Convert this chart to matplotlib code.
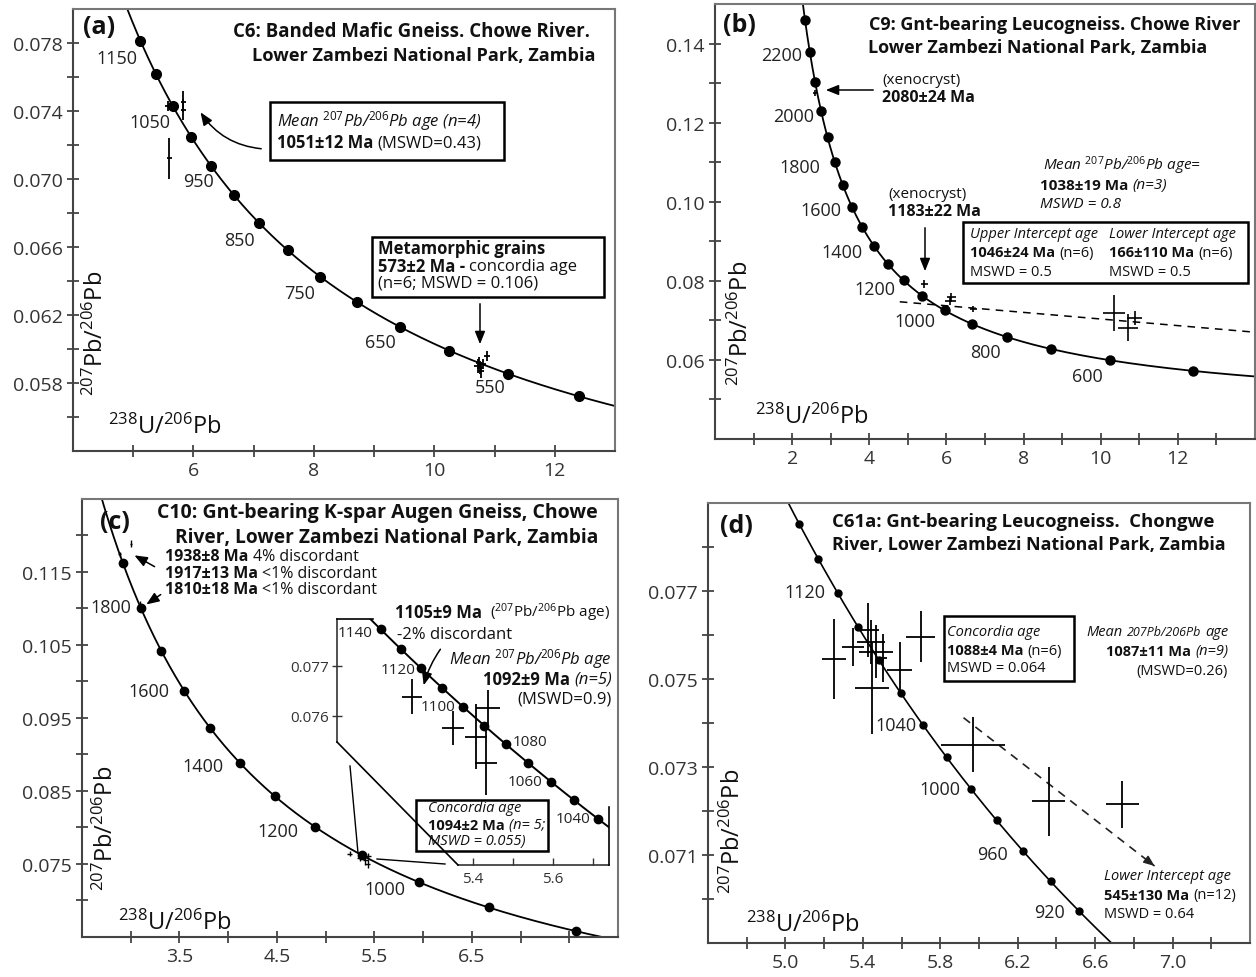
import numpy as np
import matplotlib
matplotlib.use('Agg')
import matplotlib.pyplot as plt
from matplotlib.lines import Line2D
from matplotlib.patches import Rectangle, FancyArrowPatch
from matplotlib.ticker import FixedLocator, FormatStrFormatter, NullFormatter

plt.rcParams['font.family'] = ['Open Sans', 'DejaVu Sans']
plt.rcParams['mathtext.fontset'] = 'custom'
plt.rcParams['mathtext.rm'] = 'Open Sans'
plt.rcParams['mathtext.it'] = 'Open Sans:italic'
plt.rcParams['mathtext.bf'] = 'Open Sans:bold'

# ---------------- data ----------------
# decay constants (1/Ma) and 238U/235U
L238 = 1.55125e-4
L235 = 9.8485e-4
U85 = 137.88

# panel (a)
a_dot_ages = [500, 550, 600, 650, 700, 750, 800, 850, 900, 950, 1000, 1050, 1100, 1150]
a_label_ages = [1150, 1050, 950, 850, 750, 650, 550]
a_old_x = [5.58, 5.83, 5.83, 5.60]
a_old_y = [0.07431, 0.07455, 0.07408, 0.07121]
a_old_xerr = [0.06, 0.04, 0.04, 0.04]
a_old_yerr = [0.0003, 0.0006, 0.0006, 0.0012]
a_met_x = [10.72, 10.76, 10.80, 10.78, 10.74, 10.87]
a_met_y = [0.0590, 0.0589, 0.0591, 0.0587, 0.0592, 0.0596]
a_met_xerr = [0.06, 0.05, 0.06, 0.05, 0.05, 0.05]
a_met_yerr = [0.0004, 0.0004, 0.0003, 0.0004, 0.0003, 0.0003]

# panel (b)
b_dot_ages = [500, 600, 700, 800, 900, 1000, 1100, 1200, 1300, 1400, 1500, 1600,
              1700, 1800, 1900, 2000, 2100, 2200, 2300]
b_label_ages = [2200, 2000, 1800, 1600, 1400, 1200, 1000, 800, 600]
b_x = [2.60, 5.43, 6.13, 6.10, 6.70, 10.34, 10.70, 10.88]
b_y = [0.1275, 0.0793, 0.0758, 0.0749, 0.0729, 0.0719, 0.0681, 0.0706]
b_xerr = [0.05, 0.10, 0.12, 0.15, 0.10, 0.28, 0.26, 0.19]
b_yerr = [0.0008, 0.0010, 0.0012, 0.0009, 0.0007, 0.0045, 0.0034, 0.0017]
b_disc_x = [4.79, 14.0]
b_disc_y = [0.0747, 0.0670]

# panel (c)
c_dot_ages = [800, 900, 1000, 1100, 1200, 1300, 1400, 1500, 1600, 1700, 1800, 1900]
c_label_ages = [1800, 1600, 1400, 1200, 1000]
c_old_x = [3.00, 2.885, 3.10]
c_old_y = [0.1189, 0.1174, 0.1106]
c_old_xerr = [0.01, 0.012, 0.012]
c_old_yerr = [0.0005, 0.0004, 0.0004]
c_x = [5.2475, 5.350, 5.4375, 5.4075, 5.4325]
c_y = [0.07638, 0.07576, 0.07616, 0.07558, 0.07506]
c_xerr = [0.026, 0.028, 0.031, 0.027, 0.027]
c_yerr = [0.00035, 0.00034, 0.00036, 0.00065, 0.00065]
c_inset_dot_ages = [1040, 1050, 1060, 1070, 1080, 1090, 1100, 1110, 1120, 1130, 1140]
c_inset_label_ages = [1140, 1120, 1100, 1080, 1060, 1040]

# panel (d)
d_dot_ages = [920, 940, 960, 980, 1000, 1020, 1040, 1060, 1080, 1100, 1120, 1140, 1160]
d_label_ages = [1120, 1040, 1000, 960, 920]
d_x = [5.249, 5.347, 5.425, 5.440, 5.466, 5.503, 5.446, 5.590, 5.700, 5.970, 6.360, 6.740]
d_y = [0.07546, 0.07573, 0.07612, 0.07584, 0.07562, 0.07548, 0.07480, 0.07521,
       0.07596, 0.07351, 0.07222, 0.07215]
d_xerr = [0.062, 0.057, 0.057, 0.072, 0.088, 0.020, 0.088, 0.065, 0.075, 0.165, 0.084, 0.084]
d_yerr = [0.00091, 0.00043, 0.00061, 0.00051, 0.00060, 0.00054, 0.00104, 0.00062,
          0.00058, 0.00062, 0.00078, 0.00053]
d_disc_x = [5.92, 6.907]
d_disc_y = [0.07412, 0.07075]


def tw(t):
    t = np.asarray(t, float)
    e8 = np.exp(L238 * t) - 1
    e5 = np.exp(L235 * t) - 1
    return 1 / e8, e5 / e8 / U85


# ---------------- figure helpers ----------------
W, H = 1256, 978
fig = plt.figure(figsize=(W / 100, H / 100), dpi=100)
SP = '#444444'
TXT = '#111111'
REND = fig.canvas.get_renderer()
PB = r'$^{207}$Pb/$^{206}$Pb'


def add_ax(l, t, r, b):
    return fig.add_axes([l / W, 1 - b / H, (r - l) / W, (b - t) / H])


def T(px, py, s, size=12, ha='left', va='center', **kw):
    return fig.text(px / W, 1 - py / H, s, fontsize=size, ha=ha, va=va, color=TXT, **kw)


def rich(px, py, parts, size=12, ha='left'):
    """parts: list of (text, style[, size]); style contains 'b' and/or 'i'."""
    objs = []
    for p in parts:
        s, st = p[0], p[1]
        sz = p[2] if len(p) > 2 else size
        kw = dict(fontsize=sz, va='center', ha='left', color=TXT)
        if 'b' in st:
            kw['fontweight'] = 'bold'
        if 'i' in st:
            kw['fontstyle'] = 'italic'
        t = fig.text(0, 1 - py / H, s, **kw)
        objs.append((t, t.get_window_extent(REND).width))
    gap = size * 0.26 * 100 / 72
    total = sum(w for _, w in objs) + gap * (len(objs) - 1)
    x = px - total if ha == 'right' else px
    for t, w in objs:
        t.set_x(x / W)
        x += w + gap


def L(pts, lw=1.2, **kw):
    fig.add_artist(Line2D([p[0] / W for p in pts], [1 - p[1] / H for p in pts],
                          transform=fig.transFigure, color='k', lw=lw, **kw))


def box(l, t, r, b, lw=1.8):
    fig.add_artist(Rectangle((l / W, 1 - b / H), (r - l) / W, (b - t) / H,
                             transform=fig.transFigure, fill=False, ec='k', lw=lw))


def arrow(p0, p1, rad=0.0):
    fig.add_artist(FancyArrowPatch((p0[0] / W, 1 - p0[1] / H), (p1[0] / W, 1 - p1[1] / H),
                                   transform=fig.transFigure,
                                   arrowstyle='-|>,head_length=0.55,head_width=0.22',
                                   mutation_scale=14, lw=1.1, color='k',
                                   connectionstyle='arc3,rad=%g' % rad))


def style(ax, xlim, ylim, xmaj, xmin, ymaj, ymin, xfmt, yfmt):
    ax.set_xlim(xlim)
    ax.set_ylim(ylim)
    ax.xaxis.set_major_locator(FixedLocator(xmaj))
    ax.xaxis.set_minor_locator(FixedLocator(xmin))
    ax.yaxis.set_major_locator(FixedLocator(ymaj))
    ax.yaxis.set_minor_locator(FixedLocator(ymin))
    ax.xaxis.set_major_formatter(FormatStrFormatter(xfmt))
    ax.yaxis.set_major_formatter(FormatStrFormatter(yfmt))
    ax.xaxis.set_minor_formatter(NullFormatter())
    ax.yaxis.set_minor_formatter(NullFormatter())
    ax.tick_params(which='both', direction='inout', length=9, width=1.3, color=SP,
                   labelsize=14, labelcolor='#333333', pad=3)
    for s in ax.spines.values():
        s.set_color(SP)
        s.set_linewidth(1.5)
    for s in ['top', 'right']:
        ax.spines[s].set_color('#777777')
    ax.set_facecolor('none')


def concordia(ax, t0, t1, dot_ages, ms=6, lw=1.3):
    t = np.linspace(t0, t1, 800)
    x, y = tw(t)
    ax.plot(x, y, color='k', lw=lw, zorder=2)
    dx, dy = tw(dot_ages)
    ax.plot(dx, dy, 'o', color='k', ms=ms, zorder=3)


def age_labels(ax, ages, offsets, size=13):
    xs, ys = tw(ages)
    for x, y, a, (ox, oy) in zip(xs, ys, ages, offsets):
        ax.annotate(str(a), (x, y), xytext=(ox, -oy), textcoords='offset pixels',
                    ha='center', va='center', fontsize=size, color='#222222')


def crosses(ax, x, y, xe, ye, lw=1.3):
    ax.errorbar(x, y, xerr=xe, yerr=ye, fmt='none', ecolor='k', elinewidth=lw,
                capsize=0, zorder=4)


XLAB = r'$^{238}\mathrm{U}/^{206}\mathrm{Pb}$'
YLAB = r'$^{207}\mathrm{Pb}/^{206}\mathrm{Pb}$'

# ================= panel (a) =================
axa = add_ax(73, 10, 615, 452)
style(axa, (4, 13), (0.054, 0.080), [6, 8, 10, 12], [5, 7, 9, 11],
      [0.058, 0.062, 0.066, 0.070, 0.074, 0.078], [0.056, 0.060, 0.064, 0.068, 0.072, 0.076],
      '%d', '%.3f')
concordia(axa, 400, 1250, a_dot_ages, ms=7)
age_labels(axa, a_label_ages, [(-24, 17), (-23, 16), (-13, 15), (-20, 17), (-21, 16), (-19, 15), (-18, 13)])
crosses(axa, a_old_x, a_old_y, a_old_xerr, a_old_yerr)
crosses(axa, a_met_x, a_met_y, a_met_xerr, a_met_yerr)
T(108, 427, XLAB, size=17)
T(96, 333, YLAB, size=17, ha='center', rotation=90)
T(83, 28, '(a)', size=18, weight='bold')
T(590, 32, 'C6: Banded Mafic Gneiss. Chowe River.', size=13.4, ha='right', weight='bold')
T(595, 56, 'Lower Zambezi National Park, Zambia', size=13.1, ha='right', weight='bold')
box(270, 103, 504, 161)
rich(277, 121, [('Mean ' + PB + ' age (n=4)', 'i')], size=12)
rich(277, 143, [('1051±12 Ma', 'b'), ('(MSWD=0.43)', '')], size=12)
arrow((264, 150), (199, 111), rad=-0.25)
box(372, 238, 604, 298)
T(378, 249, 'Metamorphic grains', size=12, weight='bold')
rich(378, 267, [('573±2 Ma -', 'b'), ('concordia age', '')], size=12)
T(378, 284, '(n=6; MSWD = 0.106)', size=12)
arrow((480, 302), (480, 348))

# ================= panel (b) =================
axb = add_ax(715, 5, 1255, 440)
style(axb, (0, 14), (0.04, 0.15), [2, 4, 6, 8, 10, 12], [1, 3, 5, 7, 9, 11, 13],
      [0.06, 0.08, 0.10, 0.12, 0.14], [0.05, 0.07, 0.09, 0.11, 0.13], '%d', '%.2f')
concordia(axb, 400, 2500, b_dot_ages, ms=6.5)
age_labels(axb, b_label_ages, [(-28, 3), (-27, 5), (-35, 5), (-31, 3), (-32, 6), (-29, 9),
                               (-30, 11), (-21, 15), (-23, 16)])
axb.plot(b_disc_x, b_disc_y, color='k', lw=1.1, ls=(0, (5, 4)), zorder=2)
crosses(axb, b_x, b_y, b_xerr, b_yerr, lw=1.2)
T(755, 417, XLAB, size=17)
T(741, 323, YLAB, size=17, ha='center', rotation=90)
T(723, 26, '(b)', size=18, weight='bold')
T(869, 25, 'C9: Gnt-bearing Leucogneiss. Chowe River', size=13, weight='bold')
T(868, 48, 'Lower Zambezi National Park, Zambia', size=13, weight='bold')
T(882, 80, '(xenocryst)', size=11)
T(882, 98, '2080±24 Ma', size=11.5, weight='bold')
arrow((876, 91), (823, 91))
T(888, 195, '(xenocryst)', size=11)
T(888, 212, '1183±22 Ma', size=11.5, weight='bold')
arrow((925, 226), (925, 275))
rich(1043, 166, [('Mean ' + PB + ' age=', 'i')], size=11)
rich(1040, 186, [('1038±19 Ma', 'b'), ('(n=3)', 'i')], size=11)
T(1040, 205, 'MSWD = 0.8', size=11, style='italic')
box(963, 223, 1248, 284)
T(970, 235, 'Upper Intercept age', size=10.5, style='italic')
rich(970, 253, [('1046±24 Ma', 'b'), ('(n=6)', '')], size=10.5)
T(970, 272, 'MSWD = 0.5', size=10.5)
T(1109, 235, 'Lower Intercept age', size=10.5, style='italic')
rich(1109, 253, [('166±110 Ma', 'b'), ('(n=6)', '')], size=10.5)
T(1109, 272, 'MSWD = 0.5', size=10.5)

# ================= panel (c) =================
axc = add_ax(82, 500, 618, 938)
style(axc, (2.5, 8.0), (0.065, 0.125), [3.5, 4.5, 5.5, 6.5], [3.0, 4.0, 5.0, 6.0, 7.0, 7.5],
      [0.075, 0.085, 0.095, 0.105, 0.115], [0.07, 0.08, 0.09, 0.10, 0.11, 0.12], '%.1f', '%.3f')
concordia(axc, 600, 2100, c_dot_ages, ms=6)
age_labels(axc, c_label_ages, [(-30, -1), (-35, 0), (-37, 3), (-37, 4), (-34, 7)])
crosses(axc, c_old_x, c_old_y, c_old_xerr, c_old_yerr, lw=1.0)
crosses(axc, c_x, c_y, c_xerr, c_yerr, lw=1.0)
T(118, 923, XLAB, size=17)
T(106, 828, YLAB, size=17, ha='center', rotation=90)
T(100, 523, '(c)', size=18, weight='bold')
T(598, 513, 'C10: Gnt-bearing K-spar Augen Gneiss, Chowe', size=14, ha='right', weight='bold')
T(598, 538, 'River, Lower Zambezi National Park, Zambia', size=13.8, ha='right', weight='bold')
rich(165, 557, [('1938±8 Ma', 'b'), ('4% discordant', '')], size=11.5)
rich(165, 574, [('1917±13 Ma', 'b'), ('<1% discordant', '')], size=11.5)
rich(165, 590, [('1810±18 Ma', 'b'), ('<1% discordant', '')], size=11.5)
arrow((157, 569), (132, 555), rad=0.0)
arrow((163, 594), (144, 607), rad=0.0)
T(395, 613, '1105±9 Ma', size=12, weight='bold')
T(490, 613, '(' + PB + ' age)', size=11)
T(397, 635, '-2% discordant', size=12)
arrow((442, 648), (423, 689), rad=0.1)
rich(612, 659, [('Mean ' + PB + ' age', 'i')], size=12, ha='right')
rich(612, 680, [('1092±9 Ma', 'b'), ('(n=5)', 'i')], size=12, ha='right')
T(612, 700, '(MSWD=0.9)', size=12, ha='right')
box(416, 801, 548, 852)
T(428, 809, 'Concordia age', size=10.5, style='italic')
rich(428, 826, [('1094±2 Ma', 'b'), ('(n= 5;', 'i')], size=10.5)
T(428, 842, 'MSWD = 0.055)', size=10.5, style='italic')

# inset of (c)
ins = add_ax(337, 620, 609, 866)
ins.set_xlim(5.06, 5.74)
ins.set_ylim(0.07302, 0.07794)
ins.patch.set_visible(False)
for s in ['top', 'right']:
    ins.spines[s].set_visible(False)
ins.spines['left'].set_bounds(0.07548, 0.07794)
ins.spines['bottom'].set_bounds(5.3625, 5.74)
for s in ['left', 'bottom']:
    ins.spines[s].set_color('#333333')
    ins.spines[s].set_linewidth(1.2)
ins.yaxis.set_major_locator(FixedLocator([0.076, 0.077]))
ins.yaxis.set_major_formatter(FormatStrFormatter('%.3f'))
ins.xaxis.set_major_locator(FixedLocator([5.4, 5.6]))
ins.xaxis.set_minor_locator(FixedLocator([5.5, 5.7]))
ins.xaxis.set_major_formatter(FormatStrFormatter('%.1f'))
ins.tick_params(axis='y', direction='inout', length=7, width=1.0, color='#333333',
                labelsize=11, labelcolor='#333333', pad=2)
ins.tick_params(axis='x', which='both', direction='in', length=5, width=1.0, color='#333333',
                labelsize=11, labelcolor='#333333', pad=4)
concordia(ins, 1000, 1170, c_inset_dot_ages, ms=6, lw=1.4)
age_labels(ins, c_inset_label_ages, [(-26, 3), (-23, 1), (-25, 0), (24, -3), (-26, 0), (-25, 0)], size=11)
crosses(ins, c_x, c_y, c_xerr, c_yerr, lw=1.3)
L([(337, 620), (373, 620)], lw=1.2)
L([(337, 743), (458, 866)], lw=1.2)
L([(609, 808), (609, 866)], lw=1.2)
L([(350, 767), (358, 854)], lw=1.0)
L([(377, 860), (445, 865)], lw=1.0)

# ================= panel (d) =================
axd = add_ax(708, 504, 1250, 944)
style(axd, (4.6, 7.4), (0.069, 0.079), [5.0, 5.4, 5.8, 6.2, 6.6, 7.0],
      [4.8, 5.2, 5.6, 6.0, 6.4, 6.8, 7.2],
      [0.071, 0.073, 0.075, 0.077], [0.070, 0.072, 0.074, 0.076, 0.078], '%.1f', '%.3f')
concordia(axd, 850, 1250, d_dot_ages, ms=5, lw=1.2)
age_labels(axd, d_label_ages, [(-33, -1), (-27, 0), (-31, 0), (-31, 3), (-30, 1)])
crosses(axd, d_x, d_y, d_xerr, d_yerr, lw=1.3)
axd.plot(d_disc_x, d_disc_y, color='#222222', lw=1.2, ls=(0, (5, 4)), zorder=2)
axd.annotate('', xy=(d_disc_x[1], d_disc_y[1]),
             xytext=(d_disc_x[1] - 0.03, d_disc_y[1] + 0.03 * (d_disc_y[0] - d_disc_y[1]) / (d_disc_x[1] - d_disc_x[0])),
             arrowprops=dict(arrowstyle='-|>,head_length=0.55,head_width=0.22', color='#222222',
                             lw=1.0, mutation_scale=12, shrinkA=0, shrinkB=0))
T(746, 925, XLAB, size=17)
T(733, 831, YLAB, size=17, ha='center', rotation=90)
T(720, 527, '(d)', size=18, weight='bold')
T(832, 522, 'C61a: Gnt-bearing Leucogneiss.  Chongwe', size=13.3, weight='bold')
T(832, 545, 'River, Lower Zambezi National Park, Zambia', size=12.9, weight='bold')
box(944, 617, 1074, 682)
T(947, 632, 'Concordia age', size=10.5, style='italic')
rich(947, 651, [('1088±4 Ma', 'b'), ('(n=6)', '')], size=10.5)
T(947, 669, 'MSWD = 0.064', size=10.5)
rich(1228, 633, [('Mean', 'i'), ('207Pb/206Pb', 'i', 9), ('age', 'i')], size=10.5, ha='right')
rich(1228, 652, [('1087±11 Ma', 'b'), ('(n=9)', 'i')], size=10.5, ha='right')
T(1228, 672, '(MSWD=0.26)', size=10.5, ha='right')
T(1104, 877, 'Lower Intercept age', size=10.5, style='italic')
rich(1104, 896, [('545±130 Ma', 'b'), ('(n=12)', '')], size=10.5)
T(1104, 915, 'MSWD = 0.64', size=10.5)

fig.savefig('out.png', dpi=100)
